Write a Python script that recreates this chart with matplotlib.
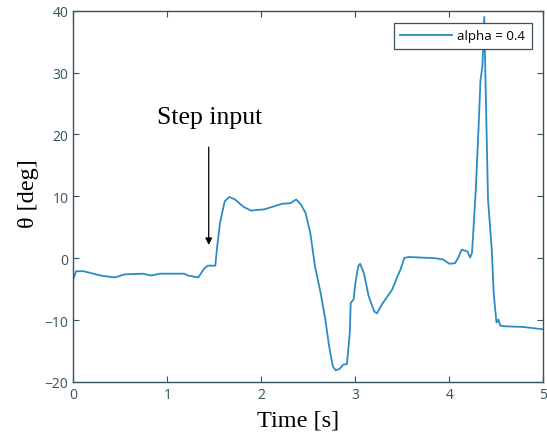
import matplotlib
matplotlib.use("Agg")
import matplotlib.pyplot as plt

# theta response (time in s, angle in deg)
time_s = [0.00, 0.03, 0.11, 0.29, 0.44, 0.55, 0.74, 0.83, 0.92, 1.18, 1.22, 1.33,
          1.39, 1.43, 1.51, 1.53, 1.56, 1.61, 1.66, 1.72, 1.81, 1.89, 2.03, 2.22,
          2.31, 2.37, 2.42, 2.47, 2.52, 2.57, 2.63, 2.68, 2.72, 2.76, 2.79, 2.83,
          2.87, 2.91, 2.94, 2.95, 2.98, 3.00, 3.03, 3.05, 3.09, 3.14, 3.20, 3.23,
          3.28, 3.33, 3.39, 3.44, 3.48, 3.52, 3.57, 3.85, 3.93, 4.00, 4.06, 4.10,
          4.13, 4.19, 4.22, 4.24, 4.28, 4.31, 4.33, 4.35, 4.37, 4.38, 4.41, 4.45,
          4.47, 4.50, 4.52, 4.54, 4.59, 4.78, 5.00]
theta_deg = [-3.4, -2.1, -2.1, -2.8, -3.1, -2.6, -2.5, -2.8, -2.5, -2.5, -2.8, -3.1,
             -1.7, -1.2, -1.2, 1.9, 5.7, 9.2, 9.9, 9.5, 8.3, 7.7, 7.9, 8.8,
             8.9, 9.5, 8.7, 7.3, 4.1, -1.3, -5.6, -9.9, -14.2, -17.5, -18.1, -17.9,
             -17.2, -17.1, -12.1, -7.2, -6.7, -4.0, -1.3, -0.9, -2.4, -6.1, -8.6, -8.9,
             -7.5, -6.4, -5.1, -3.2, -1.8, 0.05, 0.2, 0.0, -0.2, -0.9, -0.8, 0.3,
             1.4, 1.1, 0.1, 0.9, 11.1, 21.3, 28.8, 31.0, 39.0, 31.0, 9.5, 1.4,
             -5.6, -10.4, -9.9, -10.9, -11.0, -11.1, -11.5]

x_ticks = [0, 1, 2, 3, 4, 5]
y_ticks = [-20, -10, 0, 10, 20, 30, 40]

axis_color = "#33535f"
line_color = "#2b8cc4"

fig = plt.figure(figsize=(5.47, 4.39), dpi=100)
ax = fig.add_axes([0.134, 0.1276, 0.8596, 0.8457])

ax.plot(time_s, theta_deg, color=line_color, lw=1.3, label="alpha = 0.4")

ax.set_xlim(0, 5)
ax.set_ylim(-20, 40)
ax.set_xticks(x_ticks)
ax.set_yticks(y_ticks)
ax.tick_params(direction="in", length=4, width=0.8, top=True, right=True,
               colors=axis_color, labelsize=10)
for lab in ax.get_xticklabels() + ax.get_yticklabels():
    lab.set_family("Open Sans")
for sp in ax.spines.values():
    sp.set_color(axis_color)
    sp.set_linewidth(1.0)

ax.set_xlabel("Time [s]", family="Liberation Serif", fontsize=17.5)
ax.set_ylabel("θ [deg]", family="Liberation Serif", fontsize=17.5)
ax.xaxis.set_label_coords(0.477, -0.075)
ax.yaxis.set_label_coords(-0.072, 0.51)

ax.annotate("", xy=(1.44, 1.7), xytext=(1.44, 18.4),
            arrowprops=dict(arrowstyle="-|>", color="black", lw=0.9,
                            mutation_scale=10))
ax.text(1.45, 22.9, "Step input", family="Liberation Serif", fontsize=18.5,
        ha="center", va="center")

leg = ax.legend(loc="upper right", prop={"family": "Open Sans", "size": 9.5},
                fancybox=False, framealpha=1, handlelength=3.9,
                handletextpad=0.4, borderaxespad=0.9, borderpad=0.5)
leg.get_frame().set_edgecolor(axis_color)
leg.get_frame().set_linewidth(0.9)

fig.savefig("out.png", dpi=100)
